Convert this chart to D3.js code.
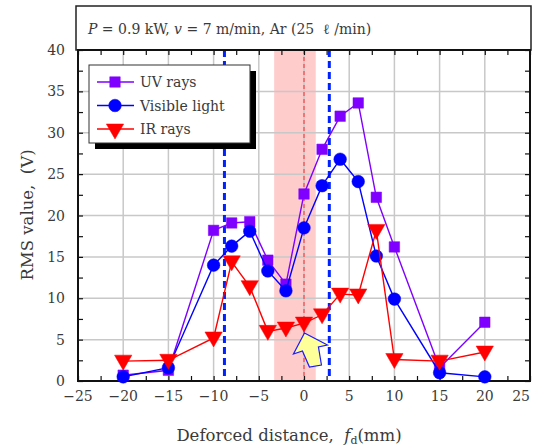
<!DOCTYPE html>
<html><head><meta charset="utf-8">
<script src="https://cdn.jsdelivr.net/npm/d3@7"></script>
<style>body{margin:0;background:#fff}svg{display:block}text{font-family:"DejaVu Serif",serif;fill:#3a3a3a}</style>
</head><body><svg id="c" width="537" height="448"></svg>
<script>
const xs = [-20, -15, -10, -8, -6, -4, -2, 0, 2, 4, 6, 8, 10, 15, 20];
const uvRays = [0.7, 1.3, 18.2, 19.1, 19.25, 14.6, 11.7, 22.6, 28.0, 32.0, 33.6, 22.2, 16.2, 1.6, 7.1];
const visibleLight = [0.5, 1.6, 14.0, 16.3, 18.1, 13.3, 10.9, 18.5, 23.6, 26.8, 24.1, 15.1, 9.9, 1.0, 0.5];
const irRays = [2.4, 2.5, 5.2, 14.4, 11.4, 6.0, 6.4, 7.0, 8.0, 10.5, 10.4, 18.2, 2.6, 2.4, 3.5];
const seriesNames = ["UV rays", "Visible light", "IR rays"];
const xTicks = [-25, -20, -15, -10, -5, 0, 5, 10, 15, 20, 25];
const yTicks = [0, 5, 10, 15, 20, 25, 30, 35, 40];
const blueLines = [-8.8, 2.8];
const band = [-3.3, 1.3];
const redLine = [0];

const svg = d3.select("#c");
const L = 78, R = 530, T = 50, B = 381;
const x = d3.scaleLinear().domain([-25, 25]).range([L, R]);
const y = d3.scaleLinear().domain([0, 40]).range([B, T]);

// header box
svg.append("rect").attr("x", 76).attr("y", 6).attr("width", R - 76 + 1).attr("height", T - 6)
  .attr("fill", "#fff").attr("stroke", "#222").attr("stroke-width", 1.5);
const ht = svg.append("text").attr("x", 88).attr("y", 34).attr("font-size", 14);
ht.append("tspan").attr("font-style", "italic").text("P");
ht.append("tspan").text(" = 0.9 kW, ");
ht.append("tspan").attr("font-style", "italic").text("v");
ht.append("tspan").text(" = 7 m/min, Ar\u00a0(25\u00a0\u00a0\u2113\u00a0/min)");

// pink band
svg.append("rect").attr("x", x(band[0])).attr("y", T).attr("width", x(band[1]) - x(band[0])).attr("height", B - T)
  .attr("fill", "#ffcccc");

// grid
const g = svg.append("g");
g.selectAll(".gx").data(xTicks.slice(1, -1)).join("line")
  .attr("x1", d => x(d)).attr("x2", d => x(d)).attr("y1", T).attr("y2", B)
  .attr("stroke", "#c8c8c8").attr("stroke-width", 1.5);
g.selectAll(".gy").data(yTicks.slice(1, -1)).join("line")
  .attr("y1", d => y(d)).attr("y2", d => y(d)).attr("x1", L).attr("x2", R)
  .attr("stroke", "#c8c8c8").attr("stroke-width", 1.5);

// red dashed line
svg.selectAll(".rl").data(redLine).join("line")
  .attr("x1", d => x(d)).attr("x2", d => x(d)).attr("y1", T).attr("y2", B)
  .attr("stroke", "#ff4040").attr("stroke-width", 1.2).attr("stroke-dasharray", "4,3");
// blue dashed lines
svg.selectAll(".bl").data(blueLines).join("line")
  .attr("x1", d => x(d)).attr("x2", d => x(d)).attr("y1", T).attr("y2", B)
  .attr("stroke", "#0022ff").attr("stroke-width", 3).attr("stroke-dasharray", "7,4");

// axes (inward ticks)
const minorX = d3.range(-25, 25.01, 2.5), minorY = d3.range(0, 40.01, 2.5);
svg.append("g").attr("transform", `translate(0,${B})`)
  .call(d3.axisBottom(x).tickValues(minorX).tickSize(-5).tickFormat(""))
  .call(a => a.select(".domain").remove()).selectAll("line").attr("stroke", "#111").attr("stroke-width", 1.2);
svg.append("g").attr("transform", `translate(0,${T})`)
  .call(d3.axisTop(x).tickValues(minorX).tickSize(-5).tickFormat(""))
  .call(a => a.select(".domain").remove()).selectAll("line").attr("stroke", "#111").attr("stroke-width", 1.2);
svg.append("g").attr("transform", `translate(${L},0)`)
  .call(d3.axisLeft(y).tickValues(minorY).tickSize(-5).tickFormat(""))
  .call(a => a.select(".domain").remove()).selectAll("line").attr("stroke", "#111").attr("stroke-width", 1.2);
svg.append("g").attr("transform", `translate(${R},0)`)
  .call(d3.axisRight(y).tickValues(minorY).tickSize(-5).tickFormat(""))
  .call(a => a.select(".domain").remove()).selectAll("line").attr("stroke", "#111").attr("stroke-width", 1.2);
svg.append("rect").attr("x", L).attr("y", T).attr("width", R - L).attr("height", B - T)
  .attr("fill", "none").attr("stroke", "#111").attr("stroke-width", 2);

// tick labels
const fmt = d => d < 0 ? "\u2212" + Math.abs(d) : String(d);
svg.selectAll(".xl").data(xTicks).join("text")
  .attr("x", d => Math.min(x(d), 535)).attr("y", B + 20)
  .attr("text-anchor", d => x(d) + 8 > 535 ? "end" : "middle").attr("font-size", 14).text(fmt);
svg.selectAll(".yl").data(yTicks).join("text")
  .attr("x", L - 13).attr("y", d => y(d) + 5).attr("text-anchor", "end").attr("font-size", 14).text(fmt);

// axis titles
const xt = svg.append("text").attr("x", 289).attr("y", 441).attr("text-anchor", "middle").attr("font-size", 16.5);
xt.append("tspan").text("Deforced distance,\u00a0 ");
xt.append("tspan").attr("font-style", "italic").text("f");
xt.append("tspan").attr("font-size", 11).attr("dy", 3).text("d");
xt.append("tspan").attr("dy", -3).text("(mm)");
svg.append("text").attr("transform", "translate(33,215) rotate(-90)").attr("text-anchor", "middle")
  .attr("font-size", 16.5).text("RMS value,\u00a0 (V)");

// series
const series = [
  {name: seriesNames[0], vals: uvRays, color: "#8000ff", shape: "sq"},
  {name: seriesNames[1], vals: visibleLight, color: "#0000ff", shape: "ci"},
  {name: seriesNames[2], vals: irRays, color: "#ff0000", shape: "tr"}
];
const symType = {sq: d3.symbolSquare, ci: d3.symbolCircle, tr: d3.symbolTriangle};
const symSize = {sq: 110, ci: 125, tr: 130};
const line = d3.line().x(d => x(d[0])).y(d => y(d[1]));
function marker(sel, s, px, py) {
  sel.append("path").attr("d", d3.symbol(symType[s.shape], symSize[s.shape])())
    .attr("transform", `translate(${px},${py})` + (s.shape === "tr" ? " rotate(180)" : ""))
    .attr("fill", s.color).attr("stroke", s.color).attr("stroke-width", 0.5);
}
series.forEach(s => {
  const pts = xs.map((xv, i) => [xv, s.vals[i]]);
  svg.append("path").attr("d", line(pts)).attr("fill", "none").attr("stroke", s.color).attr("stroke-width", 1.4);
  const mg = svg.append("g");
  pts.forEach(p => marker(mg, s, x(p[0]), y(p[1]) + (s.shape === "tr" ? -1 : 0)));
});

// arrow annotation (tip anchored in data space)
const tipX = x(0.05), tipY = y(5.8);
const arrowPts = [[0,0],[23,12],[14,14],[17,32],[5,34],[-2,18],[-11,21]];
svg.append("polygon").attr("points", arrowPts.map(p => [tipX + p[0], tipY + p[1]].join(",")).join(" "))
  .attr("fill", "#ffff99").attr("stroke", "#1a1aff").attr("stroke-width", 1.2).attr("stroke-linejoin", "miter");

// legend
const lg = svg.append("g");
lg.append("rect").attr("x", 95).attr("y", 71).attr("width", 161).attr("height", 78).attr("fill", "#000");
lg.append("rect").attr("x", 89).attr("y", 65).attr("width", 161).attr("height", 78)
  .attr("fill", "#fff").attr("stroke", "#333").attr("stroke-width", 1);
series.forEach((s, i) => {
  const cy = 82 + i * 23.5;
  lg.append("line").attr("x1", 97).attr("x2", 134).attr("y1", cy).attr("y2", cy).attr("stroke", s.color).attr("stroke-width", 1.4);
  marker(lg, s, 115, cy);
  lg.append("text").attr("x", 140).attr("y", cy + 5).attr("font-size", 14).text(s.name);
});
</script></body></html>
